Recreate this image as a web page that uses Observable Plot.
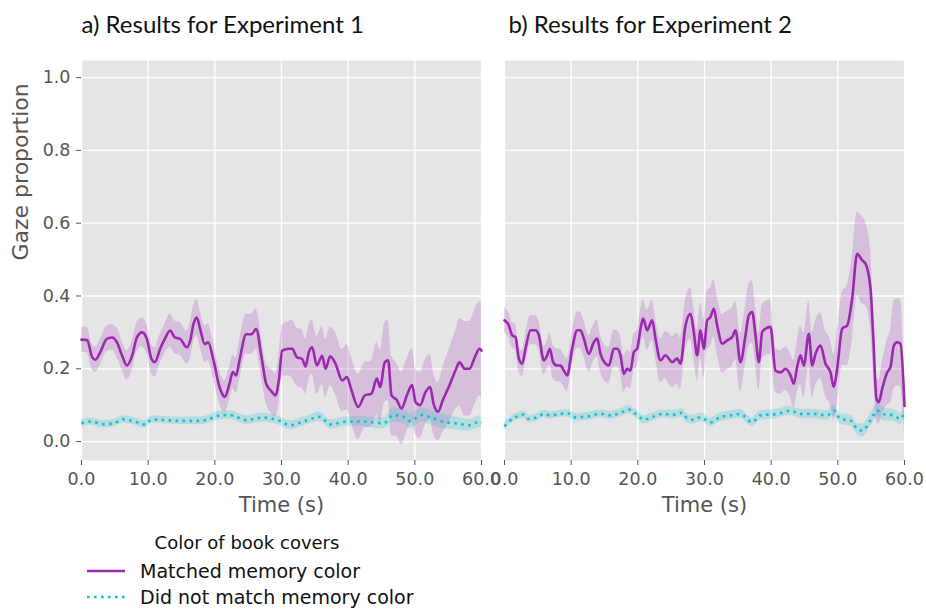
<!DOCTYPE html>
<html>
<head>
<meta charset="utf-8">
<script src="https://cdn.jsdelivr.net/npm/d3@7"></script>
<script src="https://cdn.jsdelivr.net/npm/@observablehq/plot@0.6"></script>
<style>
  html, body { margin: 0; padding: 0; background: #fff; }
  #wrap { position: relative; width: 926px; height: 610px; overflow: hidden; font-family: "DejaVu Sans", sans-serif; }
  .panel { position: absolute; top: 0; }
  #legend { position: absolute; left: 0; top: 528px; width: 500px; height: 82px; color: #111; }
  #legend .ttl { position: absolute; left: 247px; top: 4px; transform: translateX(-50%); font-size: 18px; white-space: nowrap; }
  #legend .item { position: absolute; left: 86px; height: 26px; display: flex; align-items: center; font-size: 19px; white-space: nowrap; }
  #legend .item svg { margin-right: 14px; }
</style>
</head>
<body>
<div id="wrap">
  <div id="pa" class="panel" style="left:0px"></div>
  <div id="pb" class="panel" style="left:495px"></div>
  <div id="legend"></div>
</div>
<script>
// ---------------- data ----------------
const xTicks = [0, 10, 20, 30, 40, 50, 60];
const yTicks = [0, 0.2, 0.4, 0.6, 0.8, 1.0];
const seriesNames = ["Matched memory color", "Did not match memory color"];
const legendTitle = "Color of book covers";
const panelTitles = ["a) Results for Experiment 1", "b) Results for Experiment 2"];

// Experiment 1 – matched memory colour (mean and half-width of band)
const exp1MatchTime = [0, 0.85, 1.6, 2.1, 2.8, 3.8, 4.6, 5.3, 6.1, 6.8, 7.6, 8.3, 9.1, 9.8, 10.5, 11, 11.8, 12.5, 13.3, 14, 14.8, 15.8, 16.3, 16.8, 17.3, 17.8, 18.5, 19, 19.8, 20.7, 21.5, 22.2, 22.7, 23.2, 23.7, 24.7, 25.5, 26.2, 27, 27.7, 28.5, 29.1, 29.6, 30.1, 31.1, 31.6, 32.3, 33.1, 33.6, 34.1, 34.6, 35.3, 36.1, 36.6, 37.3, 38.1, 39.1, 39.8, 40.5, 41.5, 42.5, 43.5, 44.3, 44.8, 45.5, 46, 46.5, 47.3, 48, 48.8, 49.6, 50.1, 50.8, 51.6, 52.3, 52.8, 53.5, 54.2, 55.2, 56.2, 56.7, 57.5, 58.2, 59, 59.7, 60];
const exp1MatchMean = [0.280, 0.279, 0.232, 0.225, 0.245, 0.282, 0.286, 0.273, 0.236, 0.209,
  0.236, 0.286, 0.300, 0.282, 0.227, 0.218, 0.255, 0.282, 0.305, 0.286,
  0.282, 0.259, 0.277, 0.323, 0.341, 0.309, 0.268, 0.273, 0.223, 0.150,
  0.123, 0.159, 0.191, 0.182, 0.223, 0.295, 0.295, 0.309, 0.232, 0.159,
  0.138, 0.127, 0.168, 0.250, 0.255, 0.255, 0.232, 0.227, 0.206, 0.245,
  0.259, 0.209, 0.236, 0.200, 0.234, 0.214, 0.168, 0.177, 0.141, 0.095,
  0.127, 0.132, 0.173, 0.150, 0.218, 0.223, 0.127, 0.114, 0.091, 0.127,
  0.155, 0.109, 0.100, 0.136, 0.150, 0.105, 0.082, 0.114, 0.155, 0.200,
  0.218, 0.200, 0.200, 0.232, 0.255, 0.250];
const exp1MatchErr = [0.035, 0.035, 0.035, 0.035, 0.035, 0.035, 0.035, 0.04, 0.04, 0.04,
  0.04, 0.04, 0.04, 0.04, 0.04, 0.04, 0.04, 0.04, 0.045, 0.045,
  0.045, 0.045, 0.05, 0.05, 0.05, 0.05, 0.05, 0.05, 0.05, 0.045,
  0.045, 0.045, 0.045, 0.05, 0.055, 0.055, 0.055, 0.055, 0.055, 0.055,
  0.06, 0.06, 0.065, 0.07, 0.075, 0.08, 0.08, 0.08, 0.075, 0.075,
  0.075, 0.08, 0.08, 0.08, 0.08, 0.085, 0.085, 0.09, 0.09, 0.09,
  0.09, 0.09, 0.1, 0.1, 0.11, 0.11, 0.11, 0.1, 0.1, 0.1,
  0.1, 0.09, 0.09, 0.09, 0.09, 0.085, 0.08, 0.09, 0.1, 0.11,
  0.12, 0.13, 0.13, 0.13, 0.13, 0.13];

// Experiment 1 – did not match memory colour
const exp1OtherTime = [0, 1.3, 3.3, 4.8, 6.3, 7.8, 9.6, 10.5, 12.5, 14.8, 17.8, 19.2, 20.2, 22.2, 23.5, 24.7, 27.2, 29.7, 31.3, 33.3, 35.8, 37.3, 39.8, 42.3, 45.3, 46.8, 48.3, 49.3, 51, 52.7, 54.2, 56.2, 58.2, 59.7, 60];
const exp1OtherMean = [0.05, 0.055, 0.048, 0.05, 0.061, 0.056, 0.047, 0.061, 0.059, 0.057, 0.057, 0.062, 0.07, 0.073, 0.066, 0.059, 0.066, 0.057, 0.045, 0.055, 0.068, 0.047, 0.055, 0.055, 0.05, 0.073, 0.068, 0.056, 0.073, 0.064, 0.055, 0.05, 0.045, 0.055, 0.052];
const exp1OtherErr = [0.01, 0.01, 0.01, 0.01, 0.01, 0.01, 0.01, 0.01, 0.01, 0.01, 0.011, 0.011, 0.012, 0.012, 0.012, 0.012, 0.012, 0.012, 0.012, 0.012, 0.013, 0.013, 0.013, 0.014, 0.015, 0.02, 0.02, 0.02, 0.02, 0.02, 0.02, 0.018, 0.016, 0.016, 0.016];

// Experiment 2 – matched memory colour
const exp2MatchTime = [0, 0.65, 1.15, 1.65, 2.15, 2.65, 3.15, 3.9, 4.65, 5.15,
  5.9, 6.4, 6.8, 7.3, 7.9, 8.4, 8.9, 9.4, 10.15, 10.9,
  11.4, 11.9, 12.65, 13.4, 13.9, 14.4, 15.15, 15.65, 16.4, 16.9,
  17.4, 17.9, 18.4, 18.9, 19.4, 19.9, 20.4, 20.8, 21.4, 22.15,
  22.65, 23.4, 24.15, 24.65, 25.15, 25.9, 26.4, 27.15, 27.9, 28.4,
  28.9, 29.4, 29.9, 30.4, 30.9, 31.4, 31.9, 32.65, 33.4, 34.15,
  34.65, 35.4, 36.15, 36.65, 37.15, 37.65, 38.15, 38.65, 39.15, 39.9,
  40.65, 41.4, 42.15, 42.9, 43.4, 43.9, 44.4, 44.9, 45.65, 46.15,
  46.65, 47.4, 48.15, 48.9, 49.4, 49.9, 50.65, 51.4, 52.15, 52.9,
  53.65, 54.15, 54.9, 55.3, 55.8, 56.15, 56.65, 57.4, 57.9, 58.4,
  58.9, 59.4, 60];
const exp2MatchMean = [0.333, 0.319, 0.292, 0.287, 0.228, 0.214, 0.255, 0.306, 0.306, 0.292,
  0.223, 0.237, 0.255, 0.218, 0.209, 0.209, 0.195, 0.182, 0.255, 0.306,
  0.306, 0.283, 0.241, 0.273, 0.283, 0.241, 0.214, 0.209, 0.255, 0.255,
  0.237, 0.186, 0.200, 0.195, 0.246, 0.255, 0.310, 0.338, 0.306, 0.333,
  0.283, 0.223, 0.237, 0.228, 0.218, 0.228, 0.214, 0.319, 0.351, 0.300,
  0.237, 0.306, 0.255, 0.333, 0.342, 0.365, 0.319, 0.269, 0.278, 0.287,
  0.306, 0.218, 0.292, 0.347, 0.356, 0.292, 0.218, 0.301, 0.310, 0.315,
  0.195, 0.190, 0.200, 0.182, 0.159, 0.205, 0.237, 0.209, 0.296, 0.209,
  0.241, 0.264, 0.214, 0.190, 0.150, 0.200, 0.310, 0.319, 0.393, 0.516,
  0.498, 0.489, 0.420, 0.292, 0.117, 0.108, 0.145, 0.190, 0.205, 0.264,
  0.273, 0.269, 0.098];
const exp2MatchErr = [0.035, 0.035, 0.035, 0.035, 0.035, 0.035, 0.04, 0.04, 0.04, 0.04,
  0.04, 0.04, 0.045, 0.045, 0.045, 0.045, 0.045, 0.045, 0.045, 0.05,
  0.05, 0.05, 0.05, 0.05, 0.05, 0.05, 0.05, 0.05, 0.05, 0.05,
  0.05, 0.05, 0.05, 0.05, 0.05, 0.05, 0.05, 0.05, 0.055, 0.055,
  0.055, 0.06, 0.065, 0.07, 0.07, 0.07, 0.07, 0.07, 0.07, 0.07,
  0.07, 0.075, 0.08, 0.08, 0.08, 0.08, 0.08, 0.08, 0.08, 0.08,
  0.08, 0.08, 0.08, 0.085, 0.085, 0.08, 0.08, 0.075, 0.075, 0.075,
  0.06, 0.06, 0.06, 0.06, 0.065, 0.07, 0.08, 0.09, 0.09, 0.09,
  0.09, 0.09, 0.09, 0.09, 0.09, 0.1, 0.1, 0.11, 0.115, 0.115,
  0.12, 0.115, 0.11, 0.09, 0.06, 0.06, 0.07, 0.09, 0.1, 0.12,
  0.12, 0.12, 0.08];

// Experiment 2 – did not match memory colour
const exp2OtherTime = [0, 1.15, 2.4, 2.9, 3.65, 4.9, 5.9, 6.9, 8.4, 9.4, 10.65, 12.4, 14.4, 15.9, 17.4, 18.65, 19.9, 20.9, 22.15, 23.65, 25.4, 26.65, 27.4, 28.4, 29.4, 30.9, 32.4, 33.9, 35.4, 37.15, 38.4, 40.9, 42.9, 44.4, 46.4, 48.4, 49.4, 50.4, 51.9, 52.9, 53.65, 54.9, 55.9, 56.9, 58.4, 59.4, 60];
const exp2OtherMean = [0.042, 0.062, 0.072, 0.074, 0.062, 0.067, 0.076, 0.072, 0.076, 0.078, 0.067, 0.069, 0.076, 0.072, 0.079, 0.088, 0.073, 0.060, 0.067, 0.076, 0.074, 0.079, 0.064, 0.060, 0.067, 0.053, 0.067, 0.072, 0.076, 0.053, 0.072, 0.076, 0.085, 0.076, 0.076, 0.072, 0.085, 0.062, 0.058, 0.035, 0.030, 0.058, 0.085, 0.075, 0.072, 0.062, 0.081];
const exp2OtherErr = [0.01, 0.01, 0.01, 0.01, 0.01, 0.01, 0.01, 0.01, 0.01, 0.01, 0.011, 0.011, 0.011, 0.011, 0.011, 0.011, 0.011, 0.011, 0.011, 0.011, 0.012, 0.012, 0.012, 0.012, 0.012, 0.012, 0.012, 0.012, 0.012, 0.012, 0.013, 0.013, 0.013, 0.013, 0.013, 0.013, 0.015, 0.015, 0.015, 0.015, 0.018, 0.018, 0.018, 0.018, 0.016, 0.016, 0.016];

// ---------------- styling ----------------
const PURPLE = "#9c27b0";
const CYAN = "#17becf";
const FONT = "DejaVu Sans, sans-serif";

function rows(time, mean, err) {
  return time.map((t, i) => ({ t, v: mean[i], lo: mean[i] - err[i], hi: mean[i] + err[i] }));
}

function panel({ title, match, other, showY, width, marginLeft, marginRight, titleDx }) {
  const marks = [
    Plot.frame({ fill: "#e5e5e5", stroke: null }),
    Plot.gridX(xTicks, { stroke: "white", strokeOpacity: 1, strokeWidth: 1.3 }),
    Plot.gridY(yTicks, { stroke: "white", strokeOpacity: 1, strokeWidth: 1.3 }),
    Plot.areaY(match, { x: "t", y1: "lo", y2: "hi", fill: PURPLE, fillOpacity: 0.2, curve: "monotone-x" }),
    Plot.line(match, { x: "t", y: "v", stroke: PURPLE, strokeWidth: 2.6, curve: "monotone-x" }),
    Plot.areaY(other, { x: "t", y1: "lo", y2: "hi", fill: CYAN, fillOpacity: 0.22, curve: "monotone-x" }),
    Plot.line(other, { x: "t", y: "v", stroke: CYAN, strokeWidth: 2.6, strokeDasharray: "2.6,4.4", strokeLinecap: "butt", curve: "monotone-x" }),
    Plot.axisX(xTicks, { tickFormat: d => d.toFixed(1), tickSize: 5, tickPadding: 7, fontSize: 17.5, color: "#555", label: null }),
    Plot.text(["Time (s)"], { frameAnchor: "bottom", dy: 45, fontSize: 21, fill: "#555", lineAnchor: "middle" }),
    Plot.text([title], { frameAnchor: "top-left", textAnchor: "start", lineAnchor: "bottom", dy: -28, dx: titleDx, fontSize: 24, fill: "#111", fontFamily: "Lato, sans-serif" })
  ];
  if (showY) {
    marks.push(Plot.axisY(yTicks, { tickFormat: d => d.toFixed(1), tickSize: 5, tickPadding: 6, fontSize: 17.5, color: "#555", label: null }));
    marks.push(Plot.text(["Gaze proportion"], { frameAnchor: "left", dx: -61, rotate: -90, fontSize: 22, fill: "#555" }));
  }
  return Plot.plot({
    width, height: 530,
    marginLeft, marginRight, marginTop: 60, marginBottom: 70,
    style: { fontFamily: FONT, background: "transparent", overflow: "visible" },
    x: { domain: [0, 60], axis: null },
    y: { domain: [-0.052, 1.047], axis: null },
    marks
  });
}

document.getElementById("pa").append(panel({
  title: panelTitles[0],
  match: rows(exp1MatchTime, exp1MatchMean, exp1MatchErr),
  other: rows(exp1OtherTime, exp1OtherMean, exp1OtherErr),
  showY: true, width: 490, marginLeft: 81, marginRight: 9, titleDx: 0
}));
document.getElementById("pb").append(panel({
  title: panelTitles[1],
  match: rows(exp2MatchTime, exp2MatchMean, exp2MatchErr),
  other: rows(exp2OtherTime, exp2OtherMean, exp2OtherErr),
  showY: false, width: 431, marginLeft: 9, marginRight: 22, titleDx: 4
}));

// legend
const lg = document.getElementById("legend");
lg.innerHTML = `<div class="ttl">${legendTitle}</div>
<div class="item" style="top:30px"><svg width="40" height="10"><line x1="1" x2="39" y1="5" y2="5" stroke="${PURPLE}" stroke-width="2.6"/></svg>${seriesNames[0]}</div>
<div class="item" style="top:56px"><svg width="40" height="10"><line x1="1" x2="39" y1="5" y2="5" stroke="${CYAN}" stroke-width="2.6" stroke-dasharray="2.6,4.4"/></svg>${seriesNames[1]}</div>`;
</script>
</body>
</html>
